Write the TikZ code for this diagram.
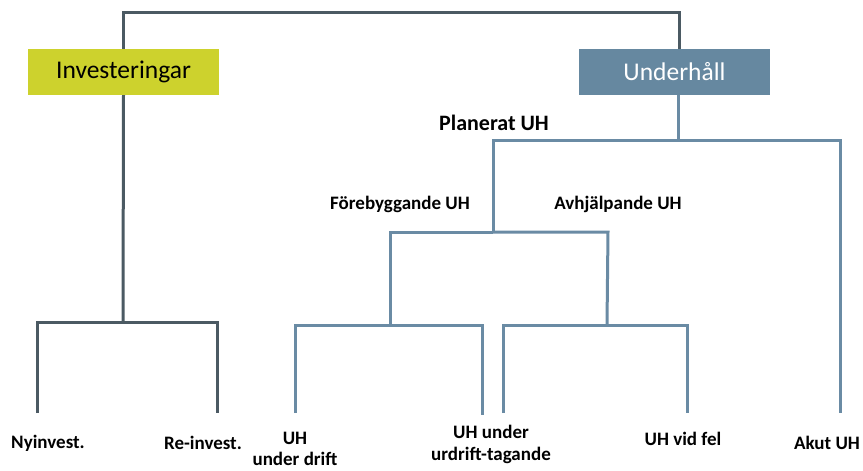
\documentclass[tikz,border=0pt]{standalone}
\usepackage{fontspec}
\setmainfont{Carlito}
\definecolor{invgreen}{HTML}{CDD22D}
\definecolor{uhblue}{HTML}{6688A0}
\definecolor{darkline}{HTML}{4B5A63}
\definecolor{blueline}{HTML}{6A8BA4}
\begin{document}
\begin{tikzpicture}[x=1pt,y=-1pt,
  topbox/.style={minimum width=191pt,minimum height=46pt,inner sep=0pt,font=\fontsize{25.5}{28}\selectfont},
  leaf/.style={font=\bfseries\fontsize{19}{22}\selectfont,align=center,inner sep=0pt},
  branchlabel/.style={font=\bfseries\fontsize{19}{22}\selectfont,inner sep=0pt},
  darkconn/.style={draw=darkline,line width=3pt},
  blueconn/.style={draw=blueline,line width=3pt}]
\useasboundingbox (0,0) rectangle (863,471);

% top-level boxes
\node[topbox,fill=invgreen,text=black] (inv) at (123.5,72) {Investeringar};
\node[topbox,fill=uhblue,text=white] (uh) at (674.5,72) {Underhåll};

% labels
\node[font=\bfseries\fontsize{22}{25}\selectfont,inner sep=0pt] (plan) at (494,123) {Planerat UH};
\node[branchlabel] (fore) at (400,204) {Förebyggande UH};
\node[branchlabel] (avhj) at (618,204) {Avhjälpande UH};

% leaves
\node[leaf] (nyinv) at (48,443) {Nyinvest.};
\node[leaf] (reinv) at (203,443) {Re-invest.};
\node[leaf,font=\bfseries\fontsize{19}{21}\selectfont] (drift) at (295,449) {UH\\under drift};
\node[leaf] (tag) at (491,444) {UH under\\urdrift-tagande};
\node[leaf] (fel) at (683,439) {UH vid fel};
\node[leaf] (akut) at (827,443) {Akut UH};

% junction points
\coordinate (topL) at (123,12);
\coordinate (topR) at (679,12);
\coordinate (invJ) at (123,322);
\coordinate (nyE) at (37,413);
\coordinate (reE) at (217,413);
\coordinate (uhJ) at (678,140);
\coordinate (planJ) at (493,140);
\coordinate (akutE) at (840,413);
\coordinate (preJ) at (493,232);
\coordinate (foreJ) at (390,232);
\coordinate (avhjJ) at (608,232);
\coordinate (foreK) at (390,325);
\coordinate (avhjK) at (607,325);
\coordinate (driftE) at (295,413);
\coordinate (tagE) at (482,415);
\coordinate (tagE2) at (503,413);
\coordinate (felE) at (687,413);

% investment branch
\draw[darkconn] (inv.north -| topL) -- (topL) -- (topR) -- (uh.north -| topR);
\draw[darkconn] (inv.south) -- (invJ);
\draw[darkconn] (nyE) -- (nyE |- invJ) -- (reE |- invJ) -- (reE);

% maintenance branch
\draw[blueconn] (uh.south -| uhJ) -- (uhJ);
\draw[blueconn] (preJ) -- (planJ) -- (akutE |- planJ) -- (akutE);
\draw[blueconn] (preJ) -- (foreJ |- preJ) -- (foreK);
\draw[blueconn] (preJ) -- (avhjJ) -- (avhjK);
\draw[blueconn] (driftE) -- (driftE |- foreK) -- (tagE |- foreK) -- (tagE);
\draw[blueconn] (tagE2) -- (tagE2 |- avhjK) -- (felE |- avhjK) -- (felE);
\end{tikzpicture}
\end{document}
